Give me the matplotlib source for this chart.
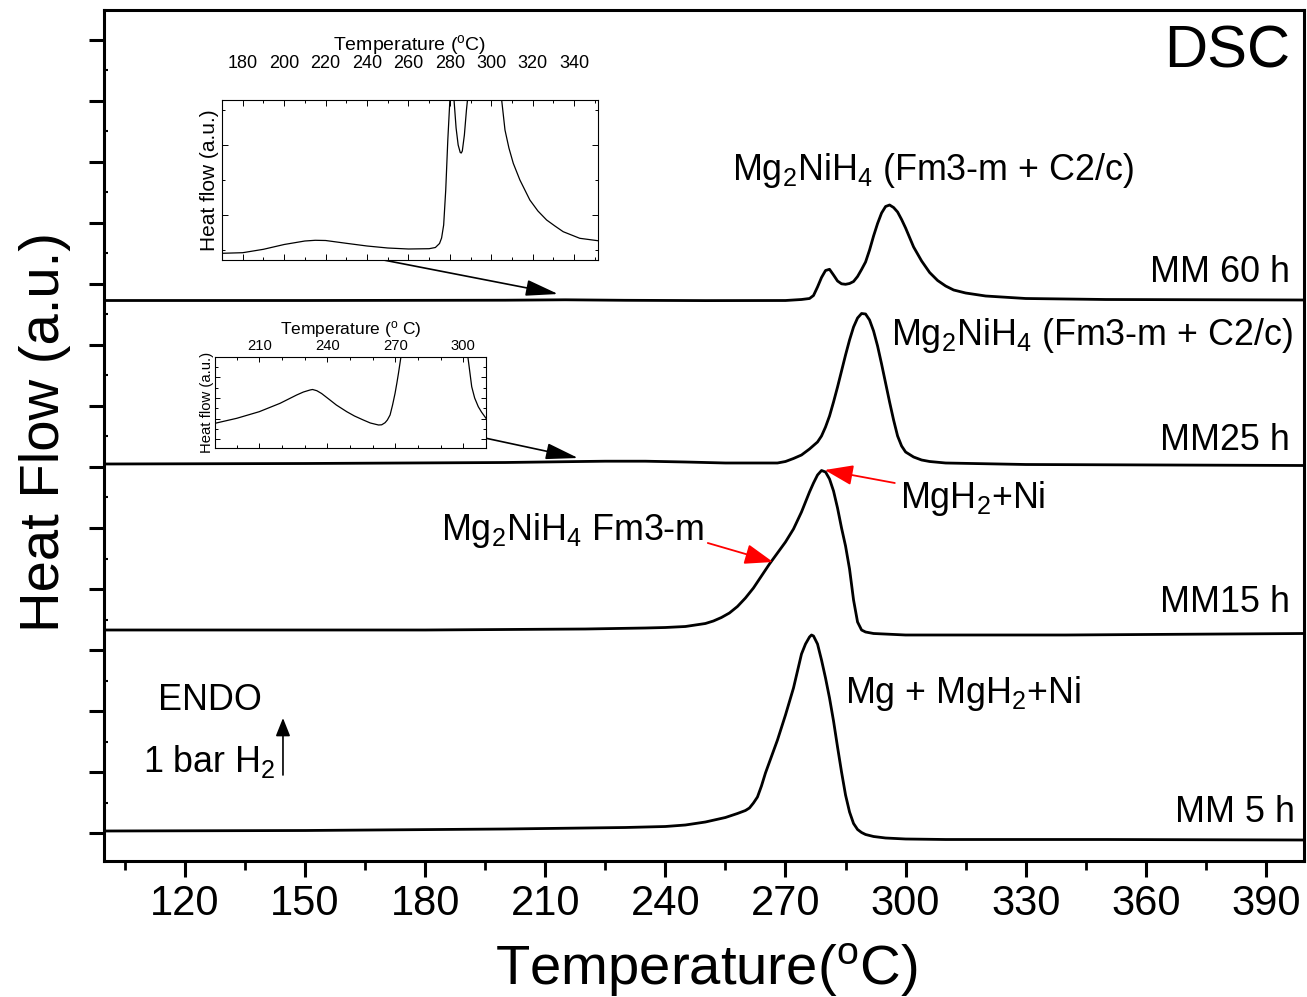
import matplotlib
matplotlib.use("Agg")
import matplotlib.pyplot as plt
from matplotlib.ticker import MultipleLocator, FixedLocator

plt.rcParams["font.family"] = ["Liberation Sans", "DejaVu Sans"]
plt.rcParams["mathtext.fontset"] = "custom"
plt.rcParams["mathtext.rm"] = "Liberation Sans"
plt.rcParams["mathtext.it"] = "Liberation Sans:italic"
plt.rcParams["mathtext.bf"] = "Liberation Sans:bold"

# ---------------- DSC traces (stacked, heat flow in arbitrary units) ----------------
mm5_T = [99.8, 150, 200, 220, 230, 240, 245, 250, 255, 258, 260, 261, 262, 263, 264, 265, 266,
         268, 270, 272, 274, 275, 276, 276.5, 277, 278, 279, 280, 281, 282, 283,
         284, 285, 286, 287, 288, 289, 290, 292, 295, 300, 310, 350, 399.5]
mm5_hf = [30, 30.5, 32, 33, 33.5, 34.5, 36, 39, 43.5, 47.5, 50.5, 53, 58, 64, 75, 88, 99,
          121, 146, 173, 207, 217, 224, 226, 225, 217, 201, 183, 163, 140, 114,
          89, 66, 49, 37.5, 31.5, 28.5, 26.5, 24.5, 23, 22, 21.5, 21.5, 21]

mm15_T = [99.8, 180, 220, 235, 240, 245, 250, 252, 254, 256, 258, 260, 262, 264,
          266, 268, 270, 272, 274, 275, 276, 277, 278, 279, 280, 281, 282, 283,
          284, 285, 286, 287, 288, 289, 290, 292, 300, 340, 399.5]
mm15_hf = [231, 231, 232, 233, 233.5, 234.5, 237.5, 240, 243.5, 248, 254.5, 263, 273, 285,
           297, 308, 319, 332, 349, 359, 369, 378, 386, 390.5, 389, 382, 370, 353,
           333, 315, 292, 261, 239, 231, 229, 227.5, 226, 226, 227.5]

mm25_T = [99.8, 150, 200, 215, 225, 235, 245, 255, 268, 270, 272, 274, 276, 278, 279,
          280, 281, 282, 283, 284, 285, 286, 287, 288, 289, 290, 291, 292, 293,
          294, 295, 296, 297, 298, 299, 300, 302, 304, 306, 310, 330, 399.5]
mm25_hf = [397, 397.5, 398.5, 399.3, 399.8, 399.8, 399, 398, 398, 399.5, 402.5, 406, 412, 419, 425,
           434, 445, 459, 474, 490, 506, 521, 534, 543, 547.5, 547, 541, 530, 515,
           497, 478, 459, 441, 425, 415, 409, 404, 401, 399.5, 398, 396.5, 395.5]

mm60_T = [99.8, 150, 200, 215, 230, 250, 270, 274, 276, 277, 278, 279, 280, 281,
          282, 283, 284, 285, 286, 287, 288, 289, 290, 291, 292, 293, 294, 295,
          296, 297, 298, 299, 300, 302, 304, 306, 308, 310, 312, 315, 320, 330,
          350, 399.5]
mm60_hf = [560.5, 560.5, 560.8, 561.2, 560.7, 560.4, 560.5, 561.5, 562.5, 565.5, 574, 583.5, 590.5, 591.7,
           586, 580, 577.2, 576.7, 577.5, 579.5, 584.5, 591.5, 599, 611, 625, 637.5, 648, 654.5,
           656, 653.5, 649, 641.5, 633, 614, 600, 588.5, 580.5, 575, 571, 568, 565, 562.5,
           561.5, 561]

# Enlarged view of the MM 60 h trace
zoom60_T = [170, 180, 190, 200, 210, 215, 220, 230, 240, 250, 260, 270, 273, 275,
            276, 277, 278, 279, 280, 280.8, 282, 283, 284, 285, 285.5, 286, 287, 288,
            288.5, 290, 293, 296, 299, 302, 304, 305, 306.6, 308.5, 310.6, 313.8, 318.6,
            322.5, 326.7, 330.7, 334.7, 342.7, 351.4]
zoom60_hf = [6.7, 7.3, 10.7, 15.5, 19, 19.7, 19.5, 16.7, 14, 12, 11, 11.3, 12.5, 16.5,
             22, 35, 70, 120, 160, 190, 160, 132, 115, 107.5, 107, 109, 125, 150,
             160, 250, 550, 700, 550, 300, 185, 160, 130, 112, 96.7, 80, 60,
             49, 40, 34, 28.3, 21.7, 19.3]

# Enlarged view of the MM25 h trace
zoom25_T = [190.5, 200.1, 210, 219.2, 226.5, 229.5, 232.4, 233.5, 235.4, 237.5, 241.2, 244,
            248.6, 252, 255.9, 259, 262.6, 264, 265.5, 266.5, 267.7, 268.8, 269.9, 270.7,
            271.4, 272.5, 274, 278, 285, 290, 295, 299, 301, 302, 303.7, 305, 306.6,
            308, 310]
zoom25_hf = [25, 30, 36.6, 45, 53.3, 56.3, 58.3, 58.8, 57.6, 54.8, 48.3, 43.3,
             36.6, 32.3, 28.3, 25.3, 23.3, 23.5, 25.6, 28.3, 33.3, 43.3, 55, 65.3,
             75, 91.6, 130, 400, 1200, 1500, 1000, 300, 130, 91.6, 61.6, 50.3, 41.6,
             36.3, 30]

main_ticks = [120, 150, 180, 210, 240, 270, 300, 330, 360, 390]
zoom60_ticks = [180, 200, 220, 240, 260, 280, 300, 320, 340]
zoom25_ticks = [210, 240, 270, 300]

W, H = 1307, 997
fig = plt.figure(figsize=(W / 100, H / 100), dpi=100)


def fig_box(x0, y0, x1, y1):
    """Axes rectangle from pixel corners (top-left origin)."""
    return [x0 / W, 1 - y1 / H, (x1 - x0) / W, (y1 - y0) / H]


ax = fig.add_axes(fig_box(104, 10, 1304, 861))
for T, hf in [(mm5_T, mm5_hf), (mm15_T, mm15_hf), (mm25_T, mm25_hf), (mm60_T, mm60_hf)]:
    ax.plot(T, hf, color="black", lw=2.0, solid_joinstyle="round", solid_capstyle="round")

ax.set_xlim(99.8, 399.5)
ax.set_ylim(0, 851)
ax.xaxis.set_major_locator(FixedLocator(main_ticks))
ax.xaxis.set_minor_locator(MultipleLocator(15))
ax.yaxis.set_major_locator(MultipleLocator(61, offset=28))
ax.yaxis.set_minor_locator(MultipleLocator(30.5, offset=28))
ax.tick_params(axis="x", which="major", direction="out", length=11.5, width=2.2,
               labelsize=30, pad=5)
ax.tick_params(axis="x", which="minor", direction="out", length=6.3, width=2.0)
ax.tick_params(axis="y", which="major", direction="out", length=10.8, width=2.2,
               labelleft=False)
ax.tick_params(axis="y", which="minor", direction="in", length=3, width=1.5)
for sp in ax.spines.values():
    sp.set_linewidth(2.2)

ax.set_xlabel(r"Temperature($^{\mathregular{o}}$C)", fontsize=40.5, va="baseline")
ax.xaxis.set_label_coords(0.5017, -0.1457)
ax.set_ylabel("Heat Flow (a.u.)", fontsize=40.5, va="center")
ax.yaxis.set_label_coords(-0.049, 0.504)

# Labels on the traces
ann = dict(fontsize=25.8, va="baseline")
ax.text(396.0, 793, "DSC", fontsize=43, ha="right", va="baseline")
ax.text(256.6, 681, r"Mg$\mathregular{_2}$NiH$\mathregular{_4}$ (Fm3-m + C2/c)", ha="left", **ann)
ax.text(396.0, 579, "MM 60 h", ha="right", **ann)
ax.text(396.7, 516, r"Mg$\mathregular{_2}$NiH$\mathregular{_4}$ (Fm3-m + C2/c)", ha="right", **ann)
ax.text(396.0, 411, "MM25 h", ha="right", **ann)
ax.text(298.6, 353, r"MgH$\mathregular{_2}$+Ni", ha="left", **ann)
ax.text(183.9, 321, r"Mg$\mathregular{_2}$NiH$\mathregular{_4}$ Fm3-m", ha="left", **ann)
ax.text(396.0, 249, "MM15 h", ha="right", **ann)
ax.text(284.8, 158, r"Mg + MgH$\mathregular{_2}$+Ni", ha="left", **ann)
ax.text(397.2, 39, "MM 5 h", ha="right", **ann)
ax.text(113.3, 151, "ENDO", ha="left", **ann)
ax.text(109.5, 89, r"1 bar H$\mathregular{_2}$", ha="left", **ann)

ax.annotate("", xy=(144.5, 143), xytext=(144.5, 86),
            arrowprops=dict(arrowstyle="-|>,head_length=0.5,head_width=0.2",
                            color="black", lw=1.2, mutation_scale=22, shrinkA=0, shrinkB=0))
red = dict(arrowstyle="-|>,head_length=0.7,head_width=0.25", color="red", lw=1.3,
           mutation_scale=25, shrinkA=0, shrinkB=0)
ax.annotate("", xy=(279.8, 391), xytext=(297.3, 378), arrowprops=red)
ax.annotate("", xy=(266.9, 299), xytext=(250.6, 318), arrowprops=red)
blk = dict(arrowstyle="-|>,head_length=0.8,head_width=0.2", color="black", lw=1.2,
           mutation_scale=25, shrinkA=0, shrinkB=0)
ax.annotate("", xy=(213.2, 567), xytext=(154.2, 613), arrowprops=blk)
ax.annotate("", xy=(218.2, 403), xytext=(160.0, 453), arrowprops=blk)

# ---------------- enlarged views ----------------
ins1 = fig.add_axes(fig_box(222, 100, 598, 260))
ins1.plot(zoom60_T, zoom60_hf, color="black", lw=0.9)
ins1.set_xlim(170.0, 351.5)
ins1.set_ylim(0, 160)
ins1.xaxis.set_major_locator(FixedLocator(zoom60_ticks))
ins1.xaxis.set_minor_locator(MultipleLocator(10))
ins1.yaxis.set_major_locator(FixedLocator([45, 115]))
ins1.yaxis.set_minor_locator(FixedLocator([10, 80, 150]))
ins1.tick_params(which="both", top=True, right=True, bottom=True, left=True,
                 labeltop=True, labelbottom=False, labelleft=False,
                 direction="in", width=0.7, labelsize=13, pad=20)
ins1.tick_params(which="major", length=4)
ins1.tick_params(which="minor", length=2.5)
ins1.xaxis.set_label_position("top")
ins1.set_xlabel(r"Temperature ($^{\mathregular{o}}$C)", fontsize=14, labelpad=4)
ins1.set_ylabel("Heat flow (a.u.)", fontsize=15, labelpad=2)
for sp in ins1.spines.values():
    sp.set_linewidth(0.8)

ins2 = fig.add_axes(fig_box(215, 356.7, 486, 448.3))
ins2.plot(zoom25_T, zoom25_hf, color="black", lw=0.9)
ins2.set_xlim(190.5, 310.0)
ins2.set_ylim(0, 91.6)
ins2.xaxis.set_major_locator(FixedLocator(zoom25_ticks))
ins2.xaxis.set_minor_locator(MultipleLocator(10))
ins2.yaxis.set_major_locator(MultipleLocator(20.6, offset=9))
ins2.yaxis.set_minor_locator(MultipleLocator(10.3, offset=9))
ins2.tick_params(which="both", top=True, right=True, bottom=True, left=True,
                 labeltop=True, labelbottom=False, labelleft=False,
                 direction="in", width=0.7, labelsize=10.6, pad=3)
ins2.tick_params(which="major", length=3.5)
ins2.tick_params(which="minor", length=2)
ins2.xaxis.set_label_position("top")
ins2.set_xlabel(r"Temperature ($^{\mathregular{o}}$ C)", fontsize=12.5, labelpad=3)
ins2.set_ylabel("Heat flow (a.u.)", fontsize=10.7, labelpad=1)
for sp in ins2.spines.values():
    sp.set_linewidth(0.8)

fig.savefig("out.png", dpi=100)
